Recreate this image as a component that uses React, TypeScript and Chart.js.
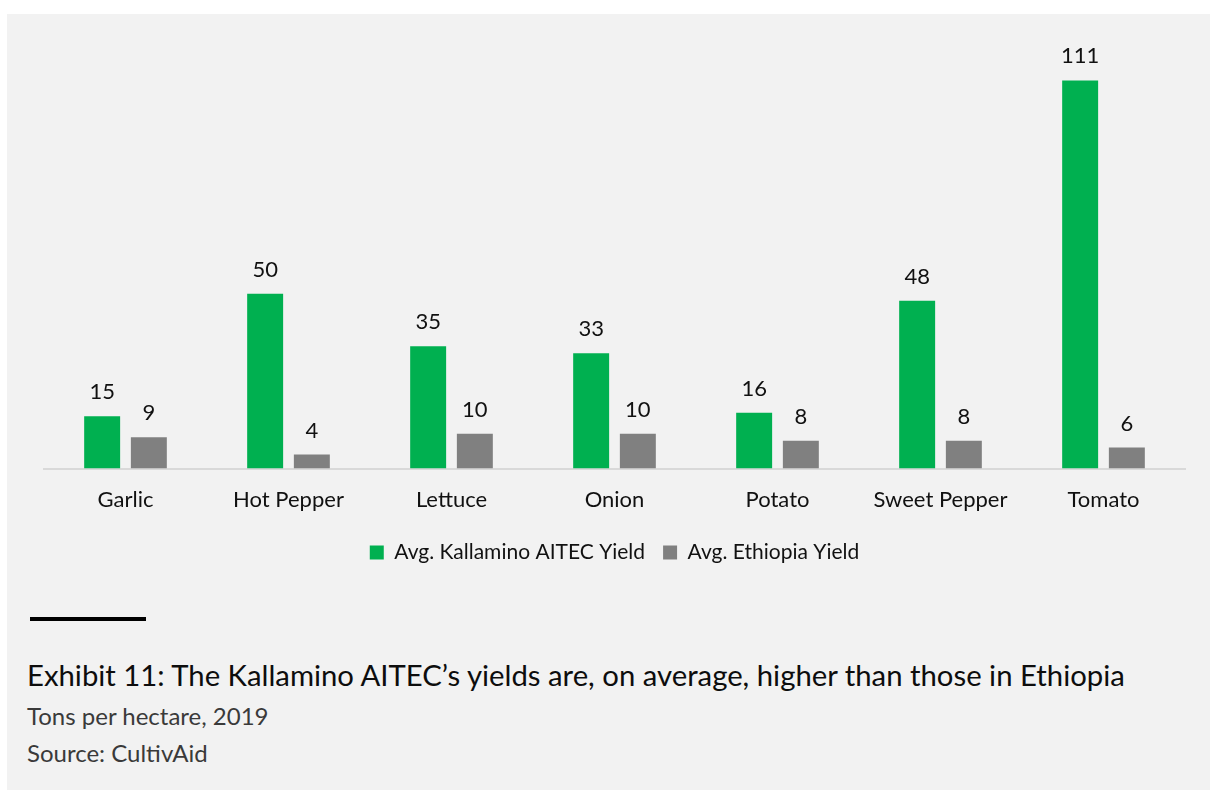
import React, { useEffect, useRef } from "react";
import { Chart, registerables } from "chart.js";

Chart.register(...registerables);

const categories = ["Garlic", "Hot Pepper", "Lettuce", "Onion", "Potato", "Sweet Pepper", "Tomato"];
const kallaminoYield = [15, 50, 35, 33, 16, 48, 111];
const ethiopiaYield = [9, 4, 10, 10, 8, 8, 6];
const seriesNames = ["Avg. Kallamino AITEC Yield", "Avg. Ethiopia Yield"];
const titleText = "Exhibit 11: The Kallamino AITEC\u2019s yields are, on average, higher than those in Ethiopia";
const subtitleText = "Tons per hectare, 2019";
const sourceText = "Source: CultivAid";

const FONT = "Lato";

const valueLabels = {
  id: "valueLabels",
  afterDatasetsDraw(chart: any) {
    const ctx = chart.ctx;
    ctx.save();
    ctx.font = `22px ${FONT}`;
    ctx.fillStyle = "#111111";
    ctx.textAlign = "center";
    ctx.textBaseline = "alphabetic";
    chart.data.datasets.forEach((ds: any, di: number) => {
      const meta = chart.getDatasetMeta(di);
      meta.data.forEach((bar: any, i: number) => {
        ctx.fillText(String(ds.data[i]), bar.x, bar.y - 17);
      });
    });
    ctx.restore();
  },
};

export default function App() {
  const ref = useRef<HTMLCanvasElement>(null);
  useEffect(() => {
    if (!ref.current) return;
    const chart = new Chart(ref.current, {
      type: "bar",
      data: {
        labels: categories,
        datasets: [
          { label: seriesNames[0], data: kallaminoYield, backgroundColor: "#00b050" },
          { label: seriesNames[1], data: ethiopiaYield, backgroundColor: "#808080" },
        ],
      },
      options: {
        animation: false,
        responsive: false,
        maintainAspectRatio: false,
        layout: { padding: { left: 37, right: 25, top: 35, bottom: 21 } },
        datasets: { bar: { categoryPercentage: 0.573, barPercentage: 0.77 } },
        scales: {
          x: {
            grid: { display: false },
            border: { display: true, color: "#d9d9d9", width: 2 },
            ticks: { color: "#111111", font: { family: FONT, size: 22 }, padding: 10.5 },
          },
          y: { display: false, min: 0, max: 120 },
        },
        plugins: {
          legend: {
            position: "bottom",
            labels: {
              boxWidth: 14,
              boxHeight: 14,
              color: "#111111",
              font: { family: FONT, size: 21 },
              padding: 18,
            },
          },
          tooltip: { enabled: false },
          title: { display: false },
        },
      },
      plugins: [valueLabels],
    });
    return () => chart.destroy();
  }, []);

  return (
    <div
      style={{
        position: "absolute",
        left: 7,
        top: 14,
        width: 1203,
        height: 776,
        background: "#f2f2f2",
        fontFamily: FONT,
      }}
    >
      <canvas ref={ref} width={1203} height={580} style={{ position: "absolute", left: 0, top: 0 }} />
      <div style={{ position: "absolute", left: 23, top: 603, width: 116, height: 4, background: "#000" }} />
      <div style={{ position: "absolute", left: 20, top: 643, fontSize: 29.3, color: "#0d0d0d", whiteSpace: "nowrap" }}>
        {titleText}
      </div>
      <div style={{ position: "absolute", left: 20, top: 687, fontSize: 24, color: "#3a3a3a", whiteSpace: "nowrap" }}>
        {subtitleText}
      </div>
      <div style={{ position: "absolute", left: 20, top: 724, fontSize: 24, color: "#3a3a3a", whiteSpace: "nowrap" }}>
        {sourceText}
      </div>
    </div>
  );
}
